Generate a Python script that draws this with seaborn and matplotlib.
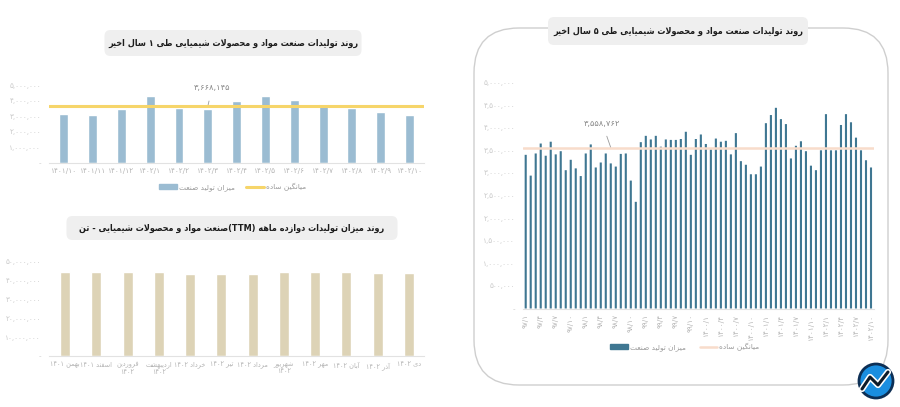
import re
import numpy as np
import matplotlib
matplotlib.use("Agg")
import matplotlib.pyplot as plt
from matplotlib.patches import FancyBboxPatch, Patch, Circle
from matplotlib.lines import Line2D
from matplotlib.ticker import FuncFormatter
import seaborn as sns

# ---------------- data ----------------
# monthly production, last 5 years (tonnes), 97/1 .. 1402/10
prod_5y = [3.40, 2.94, 3.43, 3.65, 3.38, 3.69, 3.41, 3.48, 3.06, 3.29, 3.10, 2.93,
           3.43, 3.63, 3.12, 3.23, 3.43, 3.21, 3.14, 3.42, 3.43, 2.83, 2.36, 3.68,
           3.82, 3.74, 3.82, 3.58, 3.74, 3.73, 3.73, 3.75, 3.91, 3.40, 3.75, 3.85,
           3.64, 3.52, 3.76, 3.69, 3.71, 3.41, 3.88, 3.26, 3.18, 2.97, 2.97, 3.14,
           4.10, 4.28, 4.44, 4.19, 4.08, 3.32, 3.60, 3.70, 3.48, 3.16, 3.06, 3.50,
           4.30, 3.50, 3.50, 4.06, 4.30, 4.12, 3.78, 3.50, 3.28, 3.12]
avg_5y = 3558762
avg_5y_label = "۳,۵۵۸,۷۶۲"
ticks_5y = ["۹۷/۱", "۹۷/۴", "۹۷/۷", "۹۷/۱۰", "۹۸/۱", "۹۸/۴", "۹۸/۷", "۹۸/۱۰",
            "۹۹/۱", "۹۹/۴", "۹۹/۷", "۹۹/۱۰", "۱۴۰۰/۱", "۱۴۰۰/۴", "۱۴۰۰/۷", "۱۴۰۰/۱۰",
            "۱۴۰۱/۱", "۱۴۰۱/۴", "۱۴۰۱/۷", "۱۴۰۱/۱۰", "۱۴۰۲/۱", "۱۴۰۲/۴", "۱۴۰۲/۷", "۱۴۰۲/۱۰"]

# last 13 months
months_1y = ["۱۴۰۱/۱۰", "۱۴۰۱/۱۱", "۱۴۰۱/۱۲", "۱۴۰۲/۱", "۱۴۰۲/۲", "۱۴۰۲/۳", "۱۴۰۲/۴",
             "۱۴۰۲/۵", "۱۴۰۲/۶", "۱۴۰۲/۷", "۱۴۰۲/۸", "۱۴۰۲/۹", "۱۴۰۲/۱۰"]
prod_1y = [3.15, 3.06, 3.50, 4.30, 3.52, 3.48, 4.02, 4.30, 4.08, 3.78, 3.52, 3.28, 3.10]
avg_1y = 3668145
avg_1y_label = "۳,۶۶۸,۱۴۵"

# twelve-month trailing total (TTM)
months_ttm = ["بهمن ۱۴۰۱", "اسفند ۱۴۰۱", "فروردین\n۱۴۰۲", "اردیبهشت\n۱۴۰۲", "خرداد ۱۴۰۲",
              "تیر ۱۴۰۲", "مرداد ۱۴۰۲", "شهریور\n۱۴۰۲", "مهر ۱۴۰۲", "آبان ۱۴۰۲",
              "آذر ۱۴۰۲", "دی ۱۴۰۲"]
prod_ttm = [44.3, 44.5, 44.6, 44.3, 43.6, 43.4, 43.6, 44.3, 44.3, 44.3, 44.2, 44.2]

title_5y = "روند تولیدات صنعت مواد و محصولات شیمیایی طی ۵ سال اخیر"
title_1y = "روند تولیدات صنعت مواد و محصولات شیمیایی طی ۱ سال اخیر"
title_ttm = "روند میزان تولیدات دوازده ماهه (TTM)صنعت مواد و محصولات شیمیایی - تن"
lbl_prod = "میزان تولید صنعت"
lbl_avg = "میانگین ساده"

# ---------------- persian shaping (no bidi lib available) ----------------
FORMS = {
    'آ': 'ﺁﺂ', 'أ': 'ﺃﺄ', 'ؤ': 'ﺅﺆ', 'إ': 'ﺇﺈ', 'ئ': 'ﺉﺊﺋﺌ', 'ا': 'ﺍﺎ', 'ب': 'ﺏﺐﺑﺒ',
    'ة': 'ﺓﺔ', 'ت': 'ﺕﺖﺗﺘ', 'ث': 'ﺙﺚﺛﺜ', 'ج': 'ﺝﺞﺟﺠ', 'ح': 'ﺡﺢﺣﺤ', 'خ': 'ﺥﺦﺧﺨ',
    'د': 'ﺩﺪ', 'ذ': 'ﺫﺬ', 'ر': 'ﺭﺮ', 'ز': 'ﺯﺰ', 'س': 'ﺱﺲﺳﺴ', 'ش': 'ﺵﺶﺷﺸ',
    'ص': 'ﺹﺺﺻﺼ', 'ض': 'ﺽﺾﺿﻀ', 'ط': 'ﻁﻂﻃﻄ', 'ظ': 'ﻅﻆﻇﻈ', 'ع': 'ﻉﻊﻋﻌ', 'غ': 'ﻍﻎﻏﻐ',
    'ف': 'ﻑﻒﻓﻔ', 'ق': 'ﻕﻖﻗﻘ', 'ل': 'ﻝﻞﻟﻠ', 'م': 'ﻡﻢﻣﻤ', 'ن': 'ﻥﻦﻧﻨ', 'ه': 'ﻩﻪﻫﻬ',
    'و': 'ﻭﻮ', 'ي': 'ﻱﻲﻳﻴ', 'پ': 'ﭖﭗﭘﭙ', 'چ': 'ﭺﭻﭼﭽ', 'ژ': 'ﮊﮋ', 'ک': 'ﮎﮏﮐﮑ',
    'گ': 'ﮒﮓﮔﮕ', 'ی': 'ﯼﯽﯾﯿ',
}
LAM_ALEF = {'ا': 'ﻻﻼ', 'آ': 'ﻵﻶ', 'أ': 'ﻷﻸ', 'إ': 'ﻹﻺ'}
MIRROR = {'(': ')', ')': '('}


def shape(s):
    out = []
    i = 0
    while i < len(s):
        c = s[i]
        if c not in FORMS:
            out.append(c)
            i += 1
            continue
        prev = s[i - 1] if i > 0 else None
        jp = prev in FORMS and len(FORMS[prev]) == 4
        if c == 'ل' and i + 1 < len(s) and s[i + 1] in LAM_ALEF:
            out.append(LAM_ALEF[s[i + 1]][1 if jp else 0])
            i += 2
            continue
        nxt = s[i + 1] if i + 1 < len(s) else None
        jn = len(FORMS[c]) == 4 and nxt in FORMS
        f = FORMS[c]
        if jp and jn:
            out.append(f[3])
        elif jp:
            out.append(f[1])
        elif jn:
            out.append(f[2])
        else:
            out.append(f[0])
        i += 1
    return ''.join(out)


def fa(s):
    lines = []
    for line in s.split('\n'):
        line = shape(line)
        parts = re.split(r'([0-9۰-۹A-Za-z][0-9۰-۹A-Za-z/,.]*)', line)
        vis = []
        for p in reversed(parts):
            if re.match(r'[0-9۰-۹A-Za-z]', p):
                vis.append(p)
            else:
                vis.append(''.join(MIRROR.get(ch, ch) for ch in p[::-1]))
        lines.append(''.join(vis))
    return '\n'.join(lines)


def fa_num(v):
    if v == 0:
        return '-'
    return f'{int(round(v)):,}'.translate(str.maketrans('0123456789', '۰۱۲۳۴۵۶۷۸۹'))


# ---------------- style ----------------
sns.set_theme(style="white")
plt.rcParams['font.family'] = ['DejaVu Sans']

C_BLUE_LIGHT = '#9bbcd2'
C_YELLOW = '#f6d56a'
C_BLUE_DARK = '#3f7792'
C_PEACH = '#f8dccb'
C_BEIGE = '#ddd3b6'
C_TICK = '#b4b4b4'
C_YTICK = '#cacaca'

fig = plt.figure(figsize=(9, 4.07), dpi=100)
fig.patch.set_facecolor('white')

# decoration layer in pixel coords
deco = fig.add_axes([0, 0, 1, 1], zorder=-1)
deco.set_xlim(0, 900)
deco.set_ylim(407, 0)
deco.axis('off')
deco.add_patch(FancyBboxPatch((474, 28), 414, 357,
                              boxstyle='round,pad=0,rounding_size=45',
                              fc='none', ec='#cfcfcf', lw=1))

top = fig.add_axes([0, 0, 1, 1], zorder=5)
top.set_xlim(0, 900)
top.set_ylim(407, 0)
top.axis('off')
top.patch.set_alpha(0)


def title_box(cx, cy, w, h, text, fs):
    top.add_patch(FancyBboxPatch((cx - w / 2, cy - h / 2), w, h,
                                 boxstyle='round,pad=0,rounding_size=6',
                                 fc='#efefef', ec='none'))
    top.text(cx, cy, fa(text), ha='center', va='center', fontsize=fs,
             fontweight='bold', fontstretch='condensed', color='#1c1c1c')


title_box(233, 43, 257, 26, title_1y, 6.5)
title_box(232, 228, 331, 24, title_ttm, 6.5)
title_box(678, 31, 260, 28, title_5y, 6.5)

# logo
top.add_patch(Circle((876, 381), 17, fc='#1a8ee0', ec='#0d2f55', lw=2))
top.plot([862, 870, 878, 888], [389, 377, 385, 372], color='white', lw=4.5,
         solid_capstyle='round')
top.plot([862, 870, 878, 888], [389, 377, 385, 372], color='#0d1b2a', lw=2.2,
         solid_capstyle='round')


def style_axes(ax, ymax, step):
    ax.set_ylim(0, ymax)
    ax.set_yticks(np.arange(0, ymax + 1, step))
    ax.yaxis.set_major_formatter(FuncFormatter(lambda v, p: fa_num(v)))
    for s in ['top', 'right', 'left']:
        ax.spines[s].set_visible(False)
    ax.spines['bottom'].set_color('#e2e2e2')
    ax.spines['bottom'].set_linewidth(0.8)
    ax.tick_params(axis='y', length=0, labelsize=5.2, labelcolor=C_YTICK, pad=6)
    ax.tick_params(axis='x', length=0, labelsize=5.2, labelcolor=C_TICK, pad=4)
    ax.set_xlabel('')
    ax.set_ylabel('')
    ax.grid(False)


# ---- top-left: 1 year ----
ax1 = fig.add_axes([49.4 / 900, 1 - 162.5 / 407, 374.5 / 900, 77 / 407])
vals1 = [v * 1e6 for v in prod_1y]
sns.barplot(x=months_1y, y=vals1, color=C_BLUE_LIGHT, saturation=1, width=0.31, ax=ax1)
ax1.axhline(avg_1y, color=C_YELLOW, lw=2.2, zorder=5)
style_axes(ax1, 5e6, 1e6)
ax1.annotate(avg_1y_label, xy=(5.0, avg_1y), xytext=(5.15, 4.85e6),
             ha='center', va='center', fontsize=6, color='#8a8a8a',
             arrowprops=dict(arrowstyle='-', color='#9a9a9a', lw=0.6,
                             shrinkA=4, shrinkB=0))
h1 = [Patch(color=C_BLUE_LIGHT), Line2D([], [], color=C_YELLOW, lw=2.2)]
ax1.legend(h1, [fa(lbl_prod), fa(lbl_avg)], loc='center', bbox_to_anchor=(0.49, -0.32),
           ncol=2, frameon=False, fontsize=5.3, labelcolor='#9a9a9a',
           handlelength=2.4, handleheight=0.6, columnspacing=1.5, handletextpad=0.3)

# ---- bottom-left: TTM ----
ax2 = fig.add_axes([49.4 / 900, 1 - 356 / 407, 375 / 900, 94.3 / 407])
vals2 = [v * 1e6 for v in prod_ttm]
sns.barplot(x=list(range(len(prod_ttm))), y=vals2, color=C_BEIGE, saturation=1,
            width=0.32, ax=ax2)
style_axes(ax2, 5e7, 1e7)
ax2.set_xticks(range(len(months_ttm)))
ax2.set_xticklabels([fa(m) for m in months_ttm], linespacing=1.1)
ax2.tick_params(axis='x', labelsize=4.7)

# ---- right: 5 years ----
ax3 = fig.add_axes([523.2 / 900, 1 - 308.5 / 407, 350.3 / 900, 226 / 407])
vals3 = [v * 1e6 for v in prod_5y]
sns.barplot(x=list(range(len(prod_5y))), y=vals3, color=C_BLUE_DARK, saturation=1,
            width=0.42, ax=ax3)
for p in ax3.patches:
    p.set_snap(False)
    p.set_linewidth(0)
ax3.axhline(avg_5y, color=C_PEACH, lw=1.8, zorder=5)
style_axes(ax3, 5e6, 5e5)
ax3.set_xticks(range(0, len(prod_5y), 3))
ax3.set_xticklabels(ticks_5y, rotation=90)
ax3.annotate(avg_5y_label, xy=(17, avg_5y), xytext=(15.3, 4.1e6),
             ha='center', va='center', fontsize=6, color='#8a8a8a',
             arrowprops=dict(arrowstyle='-', color='#9a9a9a', lw=0.6,
                             shrinkA=4, shrinkB=0))
h3 = [Patch(color=C_BLUE_DARK), Line2D([], [], color=C_PEACH, lw=1.8)]
ax3.legend(h3, [fa(lbl_prod), fa(lbl_avg)], loc='center', bbox_to_anchor=(0.462, -0.17),
           ncol=2, frameon=False, fontsize=5.3, labelcolor='#9a9a9a',
           handlelength=2.4, handleheight=0.6, columnspacing=1.8, handletextpad=0.3)

fig.savefig('out.png', dpi=100, facecolor='white')
